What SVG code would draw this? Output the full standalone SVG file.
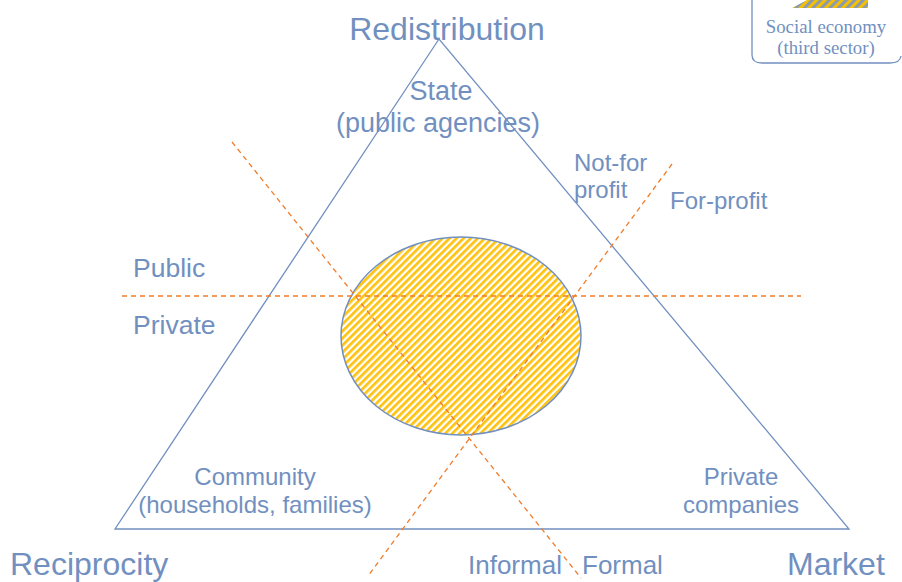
<svg xmlns="http://www.w3.org/2000/svg" width="902" height="582" viewBox="0 0 902 582">
<style>
.t{font-family:"Liberation Sans",Arial,sans-serif;fill:#7190C0}
.s{font-family:"Liberation Serif","Times New Roman",serif;fill:#7190C0}
.d{stroke:#F07C2A;stroke-width:1.3;stroke-dasharray:5,4;fill:none}
</style>
<defs>
<pattern id="h" width="5" height="5" patternUnits="userSpaceOnUse" patternTransform="rotate(45)">
<rect width="5" height="5" fill="#FFFFFF"/>
<rect width="2.7" height="5" fill="#FFC20E"/>
</pattern>
<pattern id="h2" width="6" height="6" patternUnits="userSpaceOnUse" patternTransform="rotate(45)">
<rect width="6" height="6" fill="#8A9AB0"/>
<rect width="3" height="6" fill="#F5C000"/>
</pattern>
</defs>
<rect width="902" height="582" fill="#FFFFFF"/>
<g id="legend">
<polygon points="807,0 868,0 868,8 792,8" fill="url(#h2)"/>
<path d="M752,-20 L752,55 Q752,63 762,63 L890,63 Q900,63 901,56" fill="none" stroke="#7190C0" stroke-width="1.3"/>
<text class="s" x="826" y="33" font-size="18.8" text-anchor="middle">Social economy</text>
<text class="s" x="826" y="54" font-size="18.8" text-anchor="middle">(third sector)</text>
</g>
<g id="social-economy">
<ellipse cx="461" cy="336" rx="120" ry="99" fill="url(#h)" stroke="#7190C0" stroke-width="1.5"/>
</g>
<g id="triangle">
<polygon points="439,39 115,529 849,529" fill="none" stroke="#7190C0" stroke-width="1.3"/>
</g>
<g id="connectors">
<line class="d" x1="122" y1="296" x2="801" y2="296"/>
<line class="d" x1="232" y1="142" x2="581" y2="578"/>
<line class="d" x1="672" y1="164" x2="368" y2="576"/>
</g>
<g id="redistribution">
<text class="t" x="447" y="40" font-size="32" text-anchor="middle">Redistribution</text>
</g>
<g id="state">
<text class="t" x="441" y="100" font-size="27" text-anchor="middle">State</text>
<text class="t" x="438" y="132" font-size="27" text-anchor="middle">(public agencies)</text>
</g>
<g id="notforprofit">
<text class="t" x="574" y="171" font-size="24">Not-for</text>
<text class="t" x="574" y="198" font-size="24">profit</text>
</g>
<g id="forprofit">
<text class="t" x="670" y="209" font-size="24">For-profit</text>
</g>
<g id="public"><text class="t" x="133" y="277" font-size="26.5">Public</text></g>
<g id="private"><text class="t" x="133" y="334" font-size="26.5">Private</text></g>
<g id="community">
<text class="t" x="255" y="485" font-size="24" text-anchor="middle">Community</text>
<text class="t" x="255" y="513" font-size="24" text-anchor="middle">(households, families)</text>
</g>
<g id="companies">
<text class="t" x="741" y="485" font-size="24" text-anchor="middle">Private</text>
<text class="t" x="741" y="513" font-size="24" text-anchor="middle">companies</text>
</g>
<g id="reciprocity"><text class="t" x="10" y="575" font-size="32">Reciprocity</text></g>
<g id="market"><text class="t" x="787" y="575" font-size="32">Market</text></g>
<g id="informal"><text class="t" x="468" y="574" font-size="26">Informal</text></g>
<g id="formal"><text class="t" x="582" y="574" font-size="26">Formal</text></g>
</svg>
